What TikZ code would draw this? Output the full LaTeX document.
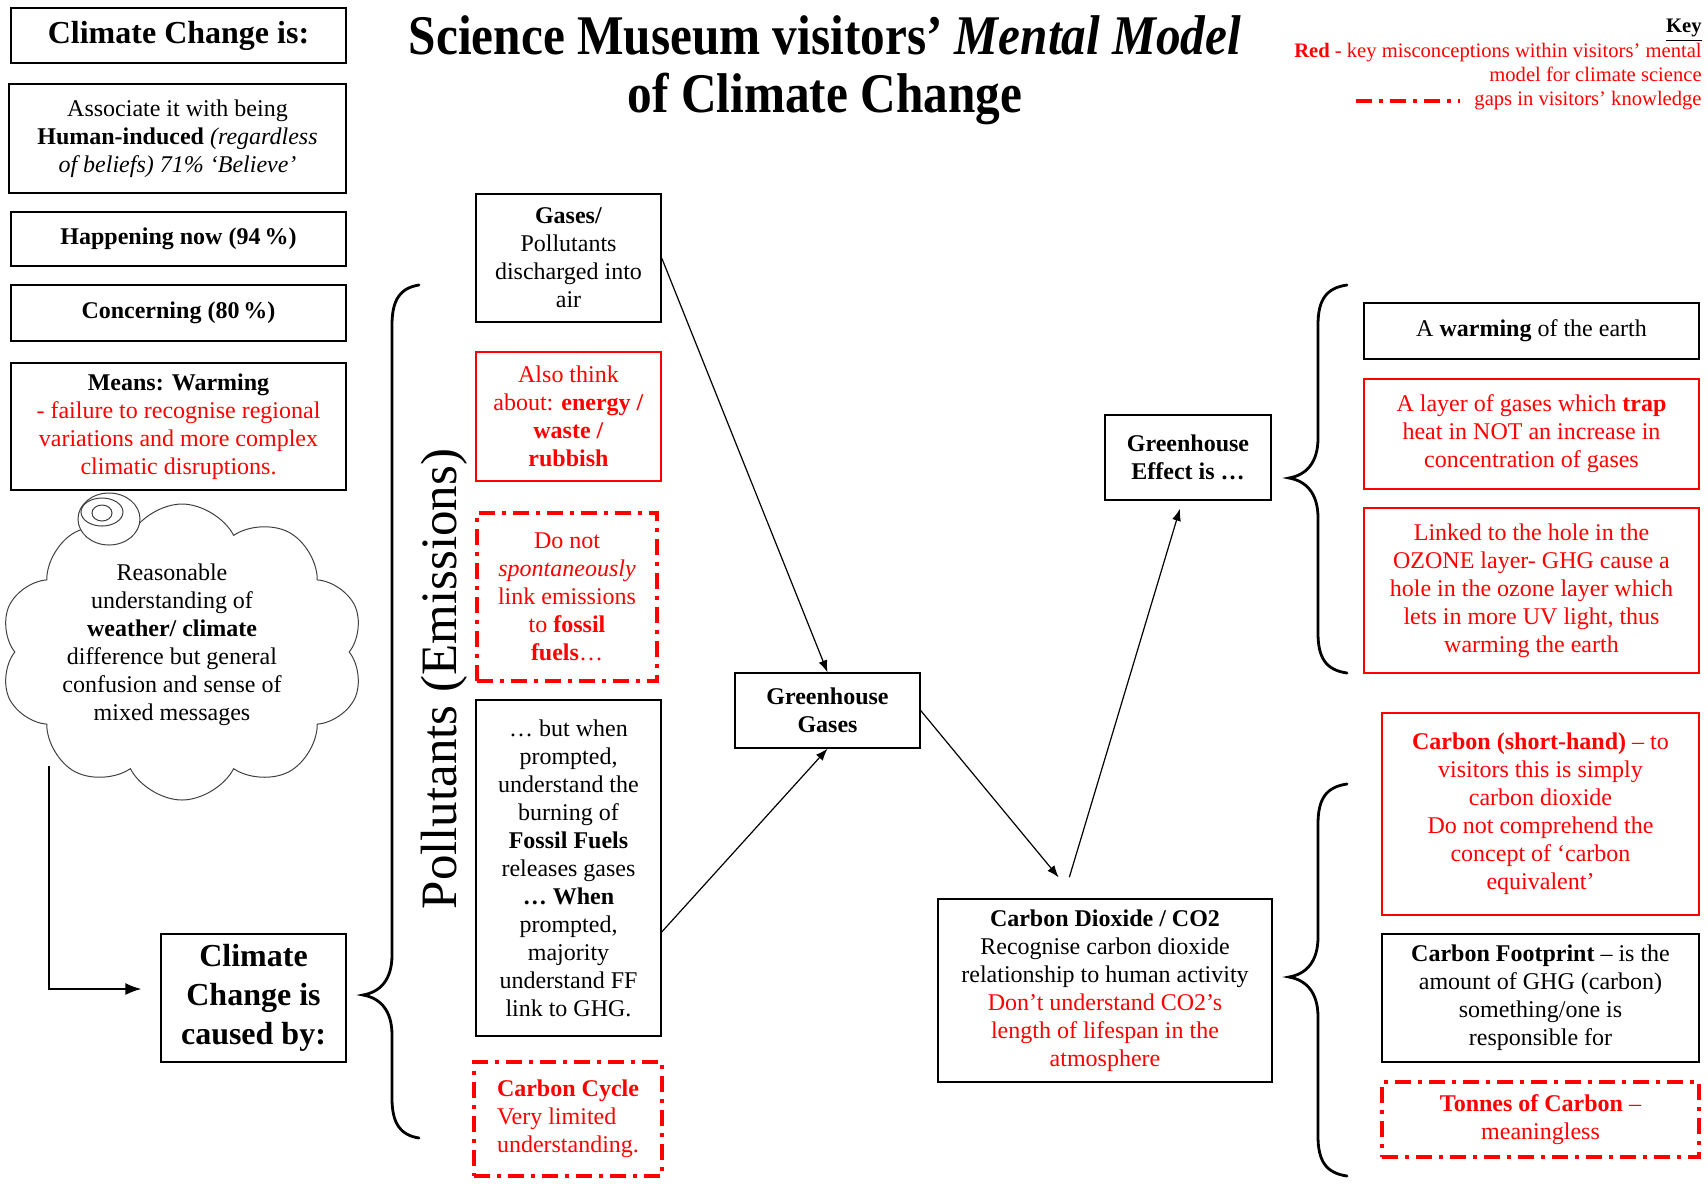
\documentclass[tikz,border=0pt]{standalone}
\usepackage{fontspec}
\setmainfont{Liberation Serif}
\newfontfamily\titlefont[FakeStretch=0.88]{Liberation Serif}
\usetikzlibrary{arrows.meta,shapes.symbols}
\definecolor{MisRed}{HTML}{FF0000}
\definecolor{CloudGrey}{HTML}{404040}

\begin{document}
\begin{tikzpicture}[x=0.5pt,y=-0.5pt,>={Latex[length=6pt,width=4.5pt]},
  font=\fontsize{12}{14}\selectfont,
  box/.style={draw,line width=0.7pt,inner sep=0pt,align=center},
  redbox/.style={box,draw=MisRed,text=MisRed,line width=0.6pt},
  gapline/.style={MisRed,line width=2.2pt,dash pattern=on 8pt off 3.5pt on 2pt off 3.5pt},
  gapbox/.style={box,gapline,text=MisRed},
  bigbold/.style={font=\fontsize{16}{19.5}\selectfont\bfseries},
  brace/.style={line width=1.4pt,line cap=round},
  link/.style={->,line width=0.6pt}]
  \useasboundingbox (0,0) rectangle (1708,1191);

  \node[font=\titlefont\bfseries\fontsize{28}{29}\selectfont,align=center] (title) at (825,70)
    {Science Museum visitors’ \textit{Mental Model}\\ of Climate Change};
  \node[anchor=north east,inner sep=0pt,font=\fontsize{10.3}{12}\selectfont\bfseries] (keyhead) at (1702,19) {\underline{Key}};
  \node[anchor=north east,inner sep=0pt,align=right,text=MisRed,font=\fontsize{10.3}{12}\selectfont] (keytext) at (1702,43)
    {\textbf{Red} - key misconceptions within visitors’ mental\\ model for climate science\\ gaps in visitors’ knowledge};
  \draw[gapline] (1356,101) -- (1460,101);

  \node[box,bigbold,minimum width=167.5pt,minimum height=27.5pt] (ccis) at (178.5,35.5) {Climate Change is:};
  \node[box,minimum width=168.5pt,minimum height=54.5pt] (human) at (177.5,138.5)
    {Associate it with being\\ \textbf{Human-induced} \textit{(regardless}\\ \textit{of beliefs) 71\% ‘Believe’}};
  \node[box,minimum width=167.5pt,minimum height=27pt] (now) at (178.5,239) {\textbf{Happening now (94\,\%)}};
  \node[box,minimum width=167.5pt,minimum height=28pt] (worry) at (178.5,313) {\textbf{Concerning (80\,\%)}};
  \node[box,minimum width=167.5pt,minimum height=63.5pt] (means) at (178.5,426.5)
    {\textbf{Means: Warming}\\ \textcolor{MisRed}{- failure to recognise regional}\\
     \textcolor{MisRed}{variations and more complex}\\ \textcolor{MisRed}{climatic disruptions.}};

  \node[cloud,draw=CloudGrey,line width=0.5pt,cloud puffs=10,cloud puff arc=125,aspect=1.25,
    minimum width=182pt,minimum height=148pt,inner sep=0pt] (cloud) at (182,652) {};
  \draw[CloudGrey,line width=0.5pt,fill=white] (109,519) ellipse [x radius=15.5pt,y radius=13pt];
  \draw[CloudGrey,line width=0.5pt] (102,512) ellipse [x radius=10.5pt,y radius=7pt];
  \draw[CloudGrey,line width=0.5pt] (102,513) ellipse [x radius=5pt,y radius=4pt];
  \node[align=center] (weather) at (172,645)
    {Reasonable\\ understanding of\\ \textbf{weather/ climate}\\ difference but general\\ confusion and sense of\\ mixed messages};

  \node[box,bigbold,minimum width=92.5pt,minimum height=64pt] (caused) at (253.5,998) {Climate\\ Change is\\ caused by:};
  \coordinate (cloudfoot) at (49,766);
  \draw[->,line width=0.7pt,>={Latex[length=8pt,width=6pt]},shorten >=9.5pt]
    (cloudfoot) |- ([yshift=4.5pt]caused.west);

  \foreach \xe/\xv/\xt/\ya/\yt/\yb in {419/392/363/285/995/1138,1347/1318/1289/285/478/673,1347/1318/1289/784/977/1176}{
    \draw[brace] (\xe,\ya) .. controls (\xv+8,\ya+3) and (\xv,\ya+15) .. (\xv,\ya+40)
      -- (\xv,\yt-40) .. controls (\xv,\yt-15) and (\xt+17,\yt-3) .. (\xt,\yt)
      .. controls (\xt+17,\yt+3) and (\xv,\yt+15) .. (\xv,\yt+40)
      -- (\xv,\yb-40) .. controls (\xv,\yb-15) and (\xv+8,\yb-3) .. (\xe,\yb);
  }
  \node[rotate=90,font=\fontsize{25.5}{28}\selectfont] (emis) at (444,679) {Pollutants (Emissions)};

  \node[box,minimum width=92.5pt,minimum height=64pt] (gases) at (568.5,258)
    {\textbf{Gases/}\\ Pollutants\\ discharged into\\ air};
  \node[redbox,minimum width=92.5pt,minimum height=64.5pt] (energy) at (568.5,416.5)
    {Also think\\ about: \textbf{energy /}\\ \textbf{waste /}\\ \textbf{rubbish}};
  \node[gapbox,minimum width=90pt,minimum height=84pt] (spont) at (567,597)
    {Do not\\ \textit{spontaneously}\\ link emissions\\ to \textbf{fossil}\\ \textbf{fuels}\ldots};
  \node[box,minimum width=92.5pt,minimum height=168pt] (ffuels) at (568.5,868)
    {\ldots\ but when\\ prompted,\\ understand the\\ burning of\\ \textbf{Fossil Fuels}\\ releases gases\\
     \textbf{\ldots\ When}\\ prompted,\\ majority\\ understand FF\\ link to GHG.};
  \node[gapbox,align=left,minimum width=94pt,minimum height=57pt] (ccycle) at (568,1119)
    {\textbf{Carbon Cycle}\\ Very limited\\ understanding.};

  \node[box,minimum width=92.5pt,minimum height=37.5pt] (ghg) at (827.5,710.5) {\textbf{Greenhouse}\\ \textbf{Gases}};
  \node[box,minimum width=83pt,minimum height=42.5pt] (ghe) at (1188,457.5) {\textbf{Greenhouse}\\ \textbf{Effect is \ldots}};
  \node[box,minimum width=167pt,minimum height=91.5pt] (co2) at (1105,990.5)
    {\textbf{Carbon Dioxide / CO2}\\ Recognise carbon dioxide\\ relationship to human activity\\
     \textcolor{MisRed}{Don’t understand CO2’s}\\ \textcolor{MisRed}{length of lifespan in the}\\ \textcolor{MisRed}{atmosphere}};

  \draw[link] (gases.east) -- (ghg.north);
  \draw[link] ([yshift=-32pt]ffuels.east) -- (ghg.south);
  \draw[link,shorten >=13.6pt] (ghg.east) -- ([xshift=-14.5pt]co2.north);
  \draw[link,shorten <=11pt,shorten >=4.2pt] ([xshift=-21pt]co2.north) -- ([xshift=-2.8pt]ghe.south);

  \node[box,minimum width=167.5pt,minimum height=28pt] (warm) at (1531.5,331) {A \textbf{warming} of the earth};
  \node[redbox,minimum width=167.5pt,minimum height=55pt] (layer) at (1531.5,434)
    {A layer of gases which \textbf{trap}\\ heat in NOT an increase in\\ concentration of gases};
  \node[redbox,minimum width=167.5pt,minimum height=82.5pt] (ozone) at (1531.5,590.5)
    {Linked to the hole in the\\ OZONE layer- GHG cause a\\ hole in the ozone layer which\\ lets in more UV light, thus\\ warming the earth};
  \node[redbox,minimum width=158.5pt,minimum height=101pt] (short) at (1540.5,814)
    {\textbf{Carbon (short-hand)} -- to\\ visitors this is simply\\ carbon dioxide\\ Do not comprehend the\\ concept of ‘carbon\\ equivalent’};
  \node[box,minimum width=158.5pt,minimum height=64pt] (foot) at (1540.5,998)
    {\textbf{Carbon Footprint} -- is the\\ amount of GHG (carbon)\\ something/one is\\ responsible for};
  \node[gapbox,minimum width=158.5pt,minimum height=37.5pt] (tonnes) at (1540.5,1119.5)
    {\textbf{Tonnes of Carbon} --\\ meaningless};
\end{tikzpicture}
\end{document}
